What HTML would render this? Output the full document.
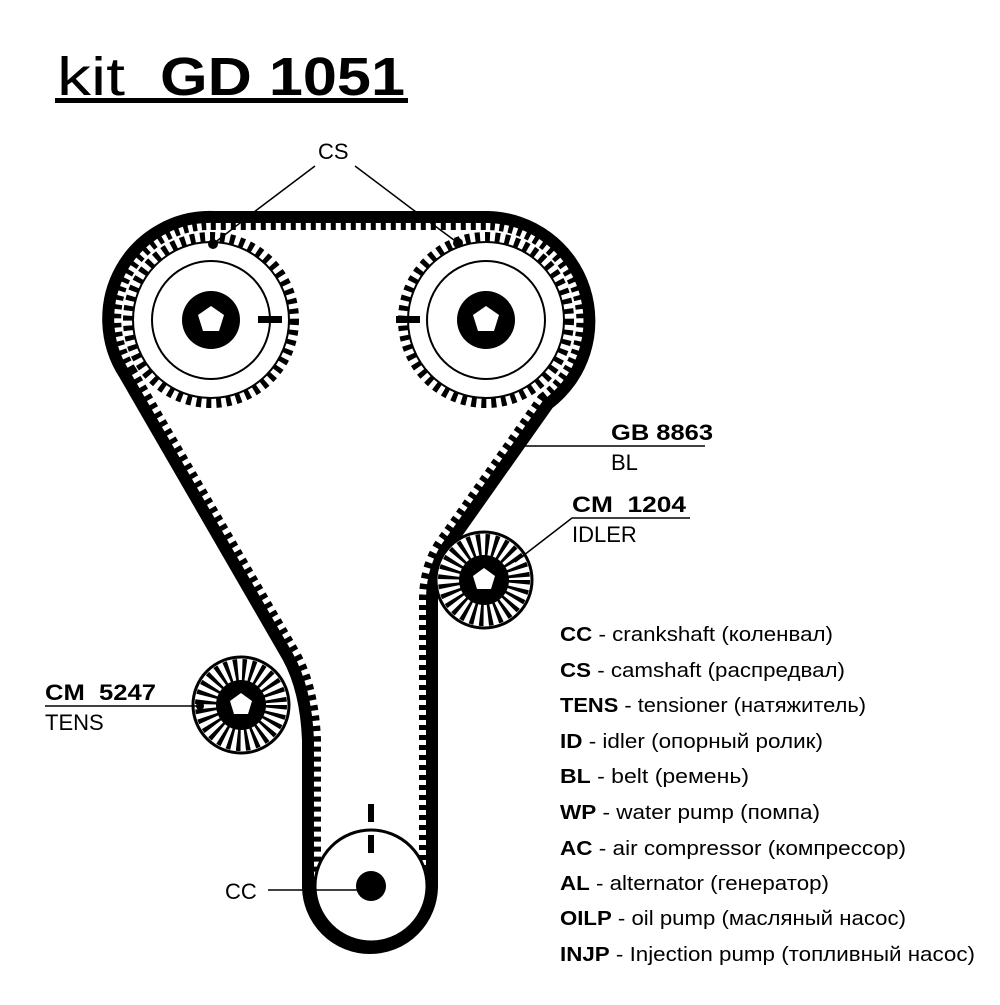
<!DOCTYPE html>
<html><head><meta charset="utf-8"><style>
body{margin:0;background:#fff;}
svg text{font-family:"Liberation Sans",Arial,"Noto Sans CJK SC",sans-serif;}
</style></head><body>
<svg width="1000" height="1000" viewBox="0 0 1000 1000" xmlns="http://www.w3.org/2000/svg">
<defs>
<path id="belt" d="M125 375 A102 102 0 0 1 214 217 L488 217 A104 104 0 0 1 548 404 L452 540 Q432 565 432 600 L432 886 A62 62 0 0 1 308 886 L308 740 Q306 690 288 657 Z"/>
<mask id="inside"><rect width="1000" height="1000" fill="black"/><use href="#belt" fill="white"/></mask>
</defs>
<rect width="1000" height="1000" fill="#fff"/>
<!-- title -->
<text x="57" y="95" font-size="54" fill="#000" textLength="68" lengthAdjust="spacingAndGlyphs">kit</text>
<text x="160" y="95" font-size="54" font-weight="bold" fill="#000" textLength="245" lengthAdjust="spacingAndGlyphs">GD 1051</text>
<rect x="55" y="98" width="353" height="5" fill="#000"/>

<!-- cam sprockets -->
<g>
<circle cx="211" cy="320" r="83" fill="none" stroke="#000" stroke-width="10" stroke-dasharray="5 5"/>
<circle cx="211" cy="320" r="78" fill="#fff" stroke="#000" stroke-width="2"/>
<circle cx="211" cy="320" r="59" fill="none" stroke="#000" stroke-width="2"/>
<circle cx="211" cy="320" r="29" fill="#000"/>
<polygon points="211,306 224,315 219,331 203,331 198,315" fill="#fff"/>
<rect x="258" y="316" width="24" height="7" fill="#000"/>
<circle cx="213" cy="244" r="5" fill="#000"/>
</g>
<g>
<circle cx="486" cy="320" r="83" fill="none" stroke="#000" stroke-width="10" stroke-dasharray="5 5"/>
<circle cx="486" cy="320" r="78" fill="#fff" stroke="#000" stroke-width="2"/>
<circle cx="486" cy="320" r="59" fill="none" stroke="#000" stroke-width="2"/>
<circle cx="486" cy="320" r="29" fill="#000"/>
<polygon points="486,306 499,315 494,331 478,331 473,315" fill="#fff"/>
<rect x="396" y="316" width="24" height="7" fill="#000"/>
<circle cx="458" cy="243" r="5" fill="#000"/>
</g>

<!-- belt teeth + belt -->
<use href="#belt" fill="none" stroke="#000" stroke-width="26" stroke-dasharray="5 5" mask="url(#inside)"/>
<use href="#belt" fill="none" stroke="#000" stroke-width="12"/>

<!-- crank -->
<circle cx="371" cy="886" r="56" fill="#fff" stroke="#000" stroke-width="3"/>
<rect x="368" y="804" width="6" height="18" fill="#000"/>
<rect x="368" y="835" width="6" height="18" fill="#000"/>
<circle cx="371" cy="886" r="15" fill="#000"/>

<!-- tensioner -->
<g>
<circle cx="241" cy="705" r="48" fill="#fff" stroke="#000" stroke-width="3"/>
<circle cx="241" cy="705" r="35" fill="none" stroke="#000" stroke-width="22" stroke-dasharray="3.6 4.3"/>
<circle cx="241" cy="705" r="25" fill="#000"/>
<polygon points="241,693 252,701 248,714 234,714 230,701" fill="#fff"/>
<circle cx="200" cy="706" r="4" fill="#000"/>
</g>
<!-- idler -->
<g>
<circle cx="484" cy="580" r="48" fill="#fff" stroke="#000" stroke-width="3"/>
<circle cx="484" cy="580" r="35" fill="none" stroke="#000" stroke-width="22" stroke-dasharray="3.6 4.3"/>
<circle cx="484" cy="580" r="25" fill="#000"/>
<polygon points="484,568 495,576 491,589 477,589 473,576" fill="#fff"/>
</g>

<!-- leaders -->
<g stroke="#000" stroke-width="1.5" fill="none">
<polyline points="315,166 258,209 213,244"/>
<polyline points="355,166 412,209 458,243"/>
<line x1="520" y1="446" x2="705" y2="446"/>
<polyline points="690,518 572,518 515,562"/>
<line x1="45" y1="706" x2="200" y2="706"/>
<line x1="268" y1="890" x2="358" y2="890"/>
</g>
<g font-size="22" fill="#000">
<text x="318" y="159">CS</text>
<text x="611" y="440" font-weight="bold" textLength="102" lengthAdjust="spacingAndGlyphs">GB 8863</text>
<text x="611" y="470">BL</text>
<text x="572" y="512" font-weight="bold" textLength="114" lengthAdjust="spacingAndGlyphs">CM&#160; 1204</text>
<text x="572" y="542">IDLER</text>
<text x="45" y="700" font-weight="bold" textLength="111" lengthAdjust="spacingAndGlyphs">CM&#160; 5247</text>
<text x="45" y="730">TENS</text>
<text x="225" y="899">CC</text>
</g>
<g font-size="20" fill="#000">
<text x="560" y="641" textLength="273" lengthAdjust="spacingAndGlyphs"><tspan font-weight="bold">CC</tspan> - crankshaft (коленвал)</text>
<text x="560" y="677" textLength="285" lengthAdjust="spacingAndGlyphs"><tspan font-weight="bold">CS</tspan> - camshaft (распредвал)</text>
<text x="560" y="712" textLength="306" lengthAdjust="spacingAndGlyphs"><tspan font-weight="bold">TENS</tspan> - tensioner (натяжитель)</text>
<text x="560" y="748" textLength="263" lengthAdjust="spacingAndGlyphs"><tspan font-weight="bold">ID</tspan> - idler (опорный ролик)</text>
<text x="560" y="783" textLength="189" lengthAdjust="spacingAndGlyphs"><tspan font-weight="bold">BL</tspan> - belt (ремень)</text>
<text x="560" y="819" textLength="260" lengthAdjust="spacingAndGlyphs"><tspan font-weight="bold">WP</tspan> - water pump (помпа)</text>
<text x="560" y="855" textLength="346" lengthAdjust="spacingAndGlyphs"><tspan font-weight="bold">AC</tspan> - air compressor (компрессор)</text>
<text x="560" y="890" textLength="269" lengthAdjust="spacingAndGlyphs"><tspan font-weight="bold">AL</tspan> - alternator (генератор)</text>
<text x="560" y="925" textLength="346" lengthAdjust="spacingAndGlyphs"><tspan font-weight="bold">OILP</tspan> - oil pump (масляный насос)</text>
<text x="560" y="961" textLength="415" lengthAdjust="spacingAndGlyphs"><tspan font-weight="bold">INJP</tspan> - Injection pump (топливный насос)</text>
</g>
</svg>
</body></html>
